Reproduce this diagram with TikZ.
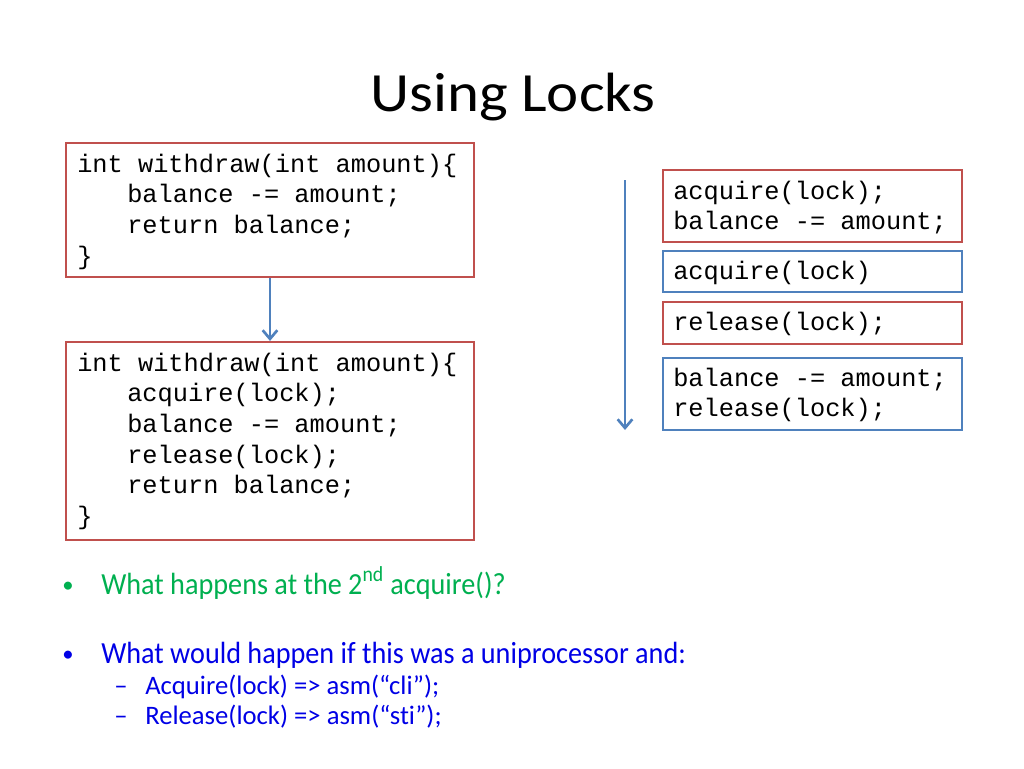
\documentclass[tikz,border=0pt]{standalone}
\usepackage{fontspec}
\setmainfont[Ligatures=NoCommon]{Carlito}
\newfontfamily\codefont{Liberation Mono}
\newfontfamily\titlefont[FakeStretch=1.1,Ligatures=NoCommon]{Carlito}
\newfontfamily\bulfont[FakeStretch=0.92,Ligatures=NoCommon]{Carlito}
\usetikzlibrary{arrows.meta}
\definecolor{boxred}{HTML}{C0504D}
\definecolor{boxblue}{HTML}{4F81BD}
\definecolor{qgreen}{HTML}{00B050}
\definecolor{qblue}{HTML}{0000E6}
\newcommand{\ind}{\hspace*{37.5pt}}
\begin{document}
\begin{tikzpicture}[x=0.75pt,y=-0.75pt,
  redbox/.style={draw=boxred, line width=1.6pt, inner sep=0pt},
  bluebox/.style={draw=boxblue, line width=1.6pt, inner sep=0pt},
  code/.style={font=\codefont\fontsize{19}{23}\selectfont, anchor=base west, inner sep=0pt},
  flow/.style={draw=boxblue, line width=2.2pt, -{Straight Barb[length=6.5pt,width=11pt,line width=2pt]}},
  title/.style={font=\titlefont\fontsize{41.5}{50}\selectfont, anchor=base, inner sep=0pt},
  bul/.style={font=\bulfont\fontsize{23}{28}\selectfont, anchor=base west, inner sep=0pt},
  dot/.style={font=\fontsize{17}{20}\selectfont, anchor=base west, inner sep=0pt},
  sub/.style={font=\fontsize{20}{24}\selectfont, anchor=base west, inner sep=0pt, text=qblue}]
\useasboundingbox[fill=white] (0,0) rectangle (1024,768);

\node[title] (t) at (513,111) {Using Locks};

% left boxes
\node[redbox, minimum width=306pt, minimum height=100.5pt] (b1) at (270,210) {};
\node[code] (c1) at (77,172) {\begin{tabular}[t]{@{}l@{}}int withdraw(int amount)\{\\
\ind balance -= amount;\\
\ind return balance;\\
\}\end{tabular}};

\node[redbox, minimum width=306pt, minimum height=148.5pt] (b2) at (270,441) {};
\node[code] (c2) at (77,371) {\begin{tabular}[t]{@{}l@{}}int withdraw(int amount)\{\\
\ind acquire(lock);\\
\ind balance -= amount;\\
\ind release(lock);\\
\ind return balance;\\
\}\end{tabular}};

\draw[flow] (b1.south) -- (b2.north);

% timeline
\coordinate (t1) at (625,180);
\coordinate (t2) at (625,430);
\draw[flow] (t1) -- (t2);

% right boxes
\node[redbox, minimum width=224.25pt, minimum height=54pt] (r1) at (812.5,206) {};
\node[code] (rc1) at (673,199) {\begin{tabular}[t]{@{}l@{}}acquire(lock);\\ balance -= amount;\end{tabular}};
\node[bluebox, minimum width=224.25pt, minimum height=30.75pt] (r2) at (812.5,271.5) {};
\node[code] (rc2) at (673,279) {acquire(lock)};
\node[redbox, minimum width=224.25pt, minimum height=31.5pt] (r3) at (812.5,323) {};
\node[code] (rc3) at (673,330) {release(lock);};
\node[bluebox, minimum width=224.25pt, minimum height=54pt] (r4) at (812.5,394) {};
\node[code] (rc4) at (673,386) {\begin{tabular}[t]{@{}l@{}}balance -= amount;\\ release(lock);\end{tabular}};

% bullets
\node[dot, text=qgreen] (d1) at (62,592) {•};
\node[bul, text=qgreen] (q1) at (101,594) {What happens at the 2\textsuperscript{nd} acquire()?};
\node[dot, text=qblue] (d2) at (62,661) {•};
\node[bul, text=qblue] (q2) at (101,663) {What would happen if this was a uniprocessor and:};
\node[sub] (s1d) at (114,694) {–};
\node[sub] (s1) at (145,694) {Acquire(lock) => asm(“cli”);};
\node[sub] (s2d) at (114,724) {–};
\node[sub] (s2) at (145,724) {Release(lock) => asm(“sti”);};
\end{tikzpicture}
\end{document}
